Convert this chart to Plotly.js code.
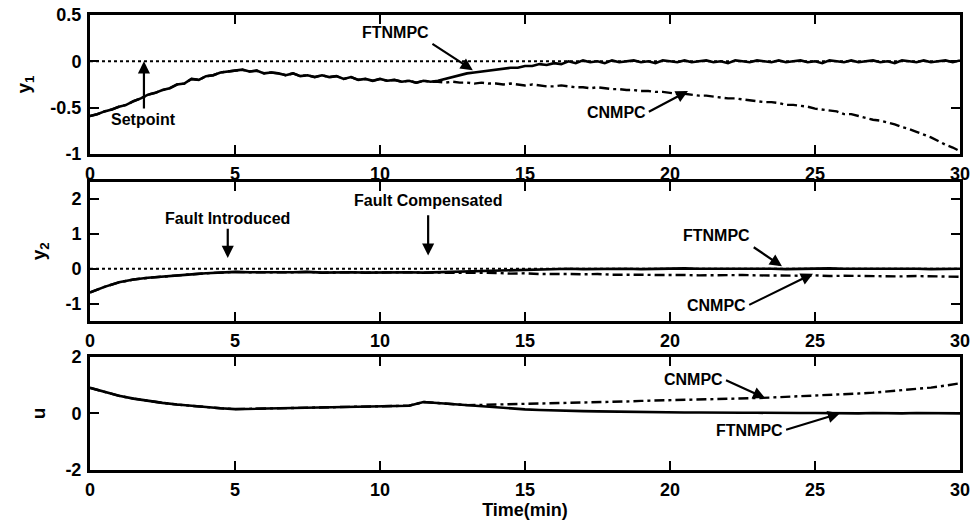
<!DOCTYPE html>
<html>
<head>
<meta charset="utf-8">
<script src="https://cdn.plot.ly/plotly-3.0.1.min.js"></script>
<style>
  html, body { margin: 0; padding: 0; background: #ffffff; }
  #chart { width: 973px; height: 520px; }
</style>
</head>
<body>
<div id="chart"></div>
<script>
// ---- sampled responses (time in minutes) ----
// y1: 0.25 min sampling; y2 and u: 0.5 min sampling
const y1Step = 0.25;
const y2Step = 0.5;
const uStep = 0.5;

// y1 before the two controllers part ways (t = 0 .. 11.75)
const y1Shared = [
  -0.59, -0.57, -0.54, -0.52,
  -0.49, -0.47, -0.43, -0.40,
  -0.36, -0.34, -0.31, -0.29,
  -0.25, -0.24, -0.19, -0.20,
  -0.16, -0.15, -0.12, -0.11,
  -0.10, -0.09, -0.11, -0.10,
  -0.13, -0.12, -0.13, -0.15,
  -0.13, -0.16, -0.15, -0.17,
  -0.15, -0.17, -0.16, -0.19,
  -0.17, -0.20, -0.19, -0.21,
  -0.19, -0.21, -0.20, -0.22,
  -0.21, -0.23, -0.21, -0.22
];
// y1, t = 12 .. 30
const y1FtnmpcTail = [
  -0.21, -0.19, -0.17, -0.15,
  -0.13, -0.12, -0.11, -0.10,
  -0.09, -0.08, -0.07, -0.07,
  -0.05, -0.05, -0.03, -0.04,
  -0.02, -0.03, 0.00, -0.02,
  0.01, -0.01, 0.00, -0.02,
  0.01, -0.01, 0.00, 0.01,
  -0.01, 0.00, -0.02, 0.01,
  0.00, -0.01, 0.01, -0.01,
  0.00, 0.01, -0.01, 0.00,
  -0.02, 0.01, 0.00, -0.01,
  0.01, 0.00, -0.01, 0.01,
  -0.01, 0.00, 0.01, -0.01,
  0.00, -0.02, 0.01, 0.00,
  -0.01, 0.01, -0.01, 0.00,
  0.01, -0.01, 0.00, -0.02,
  0.01, 0.00, -0.01, 0.01,
  -0.01, 0.00, 0.01, -0.01,
  0.01
];
const y1CnmpcTail = [
  -0.22, -0.23, -0.22, -0.23,
  -0.23, -0.24, -0.23, -0.24,
  -0.24, -0.25, -0.24, -0.25,
  -0.26, -0.25, -0.26, -0.27,
  -0.27, -0.26, -0.27, -0.28,
  -0.28, -0.29, -0.28, -0.29,
  -0.30, -0.30, -0.31, -0.31,
  -0.32, -0.32, -0.33, -0.33,
  -0.34, -0.35, -0.35, -0.36,
  -0.37, -0.37, -0.38, -0.39,
  -0.40, -0.40, -0.41, -0.42,
  -0.43, -0.44, -0.44, -0.45,
  -0.47, -0.47, -0.48, -0.49,
  -0.51, -0.52, -0.53, -0.54,
  -0.57, -0.57, -0.59, -0.61,
  -0.63, -0.64, -0.66, -0.68,
  -0.71, -0.73, -0.76, -0.79,
  -0.82, -0.86, -0.90, -0.93,
  -0.97
];

// y2, t = 0 .. 11.5
const y2Shared = [
  -0.68, -0.52, -0.39, -0.31, -0.26, -0.22, -0.18, -0.16,
  -0.13, -0.11, -0.09, -0.10, -0.09, -0.10, -0.10, -0.09,
  -0.11, -0.10, -0.10, -0.11, -0.10, -0.11, -0.10, -0.11
];
// y2, t = 12 .. 30
const y2FtnmpcTail = [
  -0.10, -0.08, -0.07, -0.05, -0.04, -0.03, -0.02, -0.01, -0.01, 0.00,
  -0.01, 0.00, 0.01, 0.00, -0.01, 0.00, 0.00, 0.01, 0.00, -0.01,
  0.00, 0.00, 0.01, 0.00, -0.01, 0.00, 0.00, 0.01, 0.00, -0.01,
  0.00, 0.00, 0.01, 0.00, -0.01, 0.00, 0.00
];
const y2CnmpcTail = [
  -0.11, -0.12, -0.11, -0.13, -0.12, -0.14, -0.13, -0.15, -0.14, -0.15,
  -0.16, -0.15, -0.17, -0.16, -0.17, -0.18, -0.17, -0.18, -0.19, -0.18,
  -0.19, -0.18, -0.19, -0.20, -0.19, -0.20, -0.19, -0.21, -0.20, -0.21,
  -0.20, -0.21, -0.22, -0.21, -0.22, -0.22, -0.23
];

// u, t = 0 .. 13
const uShared = [
  0.90, 0.75, 0.62, 0.52, 0.44, 0.37, 0.31, 0.26, 0.22, 0.18,
  0.15, 0.16, 0.17, 0.18, 0.18, 0.19, 0.20, 0.21, 0.22, 0.23,
  0.25, 0.26, 0.27, 0.40, 0.36, 0.33, 0.29
];
// u, t = 13.5 .. 30
const uFtnmpcTail = [
  0.25, 0.22, 0.18, 0.14, 0.12, 0.10, 0.09,
  0.08, 0.07, 0.06, 0.05, 0.05, 0.04, 0.04, 0.03, 0.03, 0.02,
  0.03, 0.02, 0.02, 0.01, 0.02, 0.01, 0.01, 0.00, 0.01, 0.00,
  0.01, 0.00, 0.00, 0.01, 0.00, -0.01, 0.00
];
const uCnmpcTail = [
  0.30, 0.31, 0.32, 0.34, 0.35, 0.36, 0.37,
  0.38, 0.40, 0.41, 0.42, 0.44, 0.45, 0.47, 0.48, 0.49, 0.50,
  0.52, 0.53, 0.54, 0.56, 0.58, 0.60, 0.62, 0.64, 0.67, 0.70,
  0.73, 0.77, 0.81, 0.85, 0.91, 0.98, 1.06
];

// setpoint reference
const setpointTime = [0, 30];
const setpointValue = [0, 0];

// axis ticks
const timeTicks = [0, 5, 10, 15, 20, 25, 30];
const y1Ticks = [-1, -0.5, 0, 0.5];
const y1TickText = ['-1', '-0.5', '0', '0.5'];
const y2Ticks = [-1, 0, 1, 2];
const y2TickText = ['-1', '0', '1', '2'];
const uTicks = [-2, 0, 2];
const uTickText = ['-2', '0', '2'];

// ---- styling ----
const FONT = 'Liberation Sans, Arial, Helvetica, sans-serif';
const solid = { color: '#000', width: 2.6 };
const dashDot = { color: '#000', width: 2.4, dash: '10px,4px,3px,4px' };
const dotted = { color: '#000', width: 2, dash: 'dot' };

function series(y, step, xa, ya, line) {
  return { type: 'scatter', mode: 'lines', x0: 0, dx: step, y: y,
           xaxis: xa, yaxis: ya, line: line, hoverinfo: 'skip' };
}

const traces = [
  { type: 'scatter', mode: 'lines', x: setpointTime, y: setpointValue, xaxis: 'x', yaxis: 'y', line: dotted },
  series(y1Shared.concat(y1CnmpcTail), y1Step, 'x', 'y', dashDot),
  series(y1Shared.concat(y1FtnmpcTail), y1Step, 'x', 'y', solid),

  { type: 'scatter', mode: 'lines', x: setpointTime, y: setpointValue, xaxis: 'x2', yaxis: 'y2', line: dotted },
  series(y2Shared.concat(y2CnmpcTail), y2Step, 'x2', 'y2', dashDot),
  series(y2Shared.concat(y2FtnmpcTail), y2Step, 'x2', 'y2', solid),

  series(uShared.concat(uCnmpcTail), uStep, 'x3', 'y3', dashDot),
  series(uShared.concat(uFtnmpcTail), uStep, 'x3', 'y3', solid)
];

const tickFont = { family: FONT, size: 18, color: '#000', weight: 'bold' };

function xAxis(anchor, extra) {
  return Object.assign({
    anchor: anchor, domain: [0, 1], range: [0, 30],
    tickmode: 'array', tickvals: timeTicks,
    ticks: 'inside', ticklen: 9, tickwidth: 2, tickcolor: '#000',
    showline: true, linewidth: 3, linecolor: '#000', mirror: 'ticks',
    showgrid: false, zeroline: false,
    tickfont: tickFont,
    ticklabelstandoff: 1
  }, extra || {});
}

function yAxis(anchor, domain, range, vals, text, title) {
  return {
    anchor: anchor, domain: domain, range: range,
    tickmode: 'array', tickvals: vals, ticktext: text,
    ticks: 'inside', ticklen: 9, tickwidth: 2, tickcolor: '#000',
    showline: true, linewidth: 3, linecolor: '#000', mirror: 'ticks',
    showgrid: false, zeroline: false,
    tickfont: tickFont,
    ticklabelstandoff: 2,
    title: { text: title, standoff: 15,
             font: { family: FONT, size: 19, color: '#000', weight: 'bold' } }
  };
}

// callout: label anchored at the arrow tail (ax, ay), arrow pointing to (x, y)
function callout(xr, yr, text, ax, ay, x, y, xanchor, yanchor, gap) {
  return { xref: xr, yref: yr, axref: xr, ayref: yr,
           ax: ax, ay: ay, x: x, y: y, text: text,
           xanchor: xanchor, yanchor: yanchor,
           showarrow: true, arrowhead: 2, arrowsize: 1.1, arrowwidth: 2.2,
           arrowcolor: '#000', startstandoff: gap || 0,
           font: { family: FONT, size: 16, color: '#000', weight: 'bold' } };
}

const layout = {
  width: 973, height: 520,
  margin: { l: 90, r: 13, t: 15, b: 50 },
  paper_bgcolor: '#fff', plot_bgcolor: '#fff',
  showlegend: false,
  font: { family: FONT, color: '#000', weight: 'bold' },
  xaxis: xAxis('y'),
  xaxis2: xAxis('y2'),
  xaxis3: xAxis('y3', { title: { text: 'Time(min)', standoff: 7,
           font: { family: FONT, size: 18, color: '#000', weight: 'bold' } } }),
  yaxis: yAxis('x', [0.6945, 1], [-1, 0.5], y1Ticks, y1TickText, 'y<sub>1</sub>'),
  yaxis2: yAxis('x2', [0.3275, 0.6336], [-1.5, 2.5], y2Ticks, y2TickText, 'y<sub>2</sub>'),
  yaxis3: yAxis('x3', [0, 0.249], [-2, 2], uTicks, uTickText, 'u'),
  annotations: [
    callout('x', 'y', 'Setpoint', 1.86, -0.51, 1.86, 0, 'center', 'top'),
    callout('x', 'y', 'FTNMPC', 11.75, 0.20, 13.2, -0.095, 'right', 'bottom', 2),
    callout('x', 'y', 'CNMPC', 19.24, -0.55, 20.62, -0.32, 'right', 'middle', 1),

    callout('x2', 'y2', 'Fault Introduced', 4.75, 1.15, 4.75, 0.31, 'center', 'bottom'),
    callout('x2', 'y2', 'Fault Compensated', 11.66, 1.65, 11.66, 0.38, 'center', 'bottom', 4),
    callout('x2', 'y2', 'FTNMPC', 22.83, 0.65, 23.86, 0.07, 'right', 'bottom', 2),
    callout('x2', 'y2', 'CNMPC', 22.7, -1.05, 24.93, -0.14, 'right', 'middle', 1),

    callout('x3', 'y3', 'CNMPC', 21.9, 1.18, 23.28, 0.54, 'right', 'middle', 1),
    callout('x3', 'y3', 'FTNMPC', 23.97, -0.59, 25.86, 0.0, 'right', 'middle', 1)
  ]
};

Plotly.newPlot('chart', traces, layout, { staticPlot: true, displayModeBar: false });
</script>
</body>
</html>
